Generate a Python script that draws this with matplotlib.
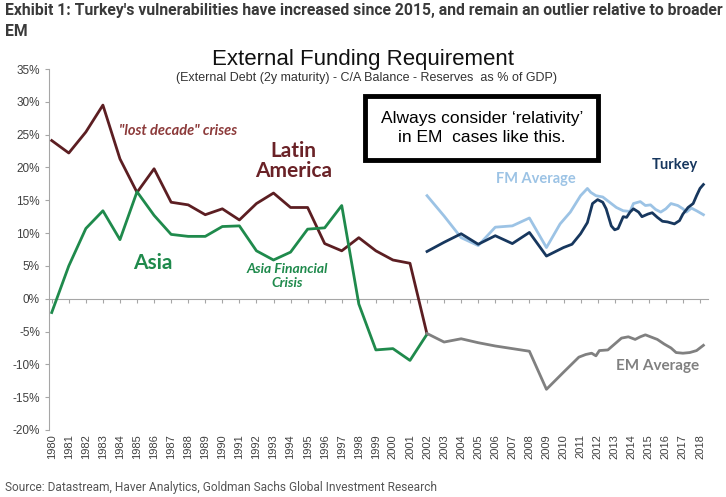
import matplotlib
matplotlib.use("Agg")
import matplotlib.pyplot as plt
from matplotlib.patches import Rectangle
from matplotlib.ticker import FuncFormatter

# ---- data (% of GDP) ----
years_hist = list(range(1980, 2003))
latam = [24.1, 22.2, 25.4, 29.5, 21.3, 16.2, 19.8, 14.7, 14.3, 12.8, 13.7, 12.0,
         14.5, 16.1, 13.9, 13.9, 8.4, 7.3, 9.3, 7.3, 5.9, 5.4, -5.4]
asia = [-2.1, 5.0, 10.7, 13.4, 9.0, 16.3, 12.7, 9.8, 9.5, 9.5, 11.0, 11.1,
        7.3, 5.9, 7.1, 10.6, 10.8, 14.2, -0.8, -7.8, -7.6, -9.4, -5.4]

em_years = [2002, 2003, 2004, 2005, 2006, 2007, 2008, 2009, 2010, 2010.9, 2011.3,
            2011.65, 2011.9, 2012.1, 2012.6, 2013.0, 2013.4, 2013.8, 2014.2, 2014.5,
            2014.8, 2015.2, 2015.5, 2015.9, 2016.3, 2016.6, 2017.0, 2017.4, 2017.8, 2018.2]
em_avg = [-5.3, -6.6, -6.1, -6.7, -7.2, -7.6, -8.0, -13.8, -11.2, -8.9, -8.5,
          -8.3, -8.7, -7.9, -7.8, -6.9, -6.0, -5.8, -6.2, -5.8,
          -5.5, -5.9, -6.2, -6.9, -7.5, -8.2, -8.3, -8.2, -7.9, -7.1]

tr_years = [2002, 2003, 2004, 2005, 2006, 2007, 2008, 2009, 2010, 2010.5, 2011.0,
            2011.4, 2011.7, 2012.0, 2012.3, 2012.5, 2012.8, 2013.0, 2013.2, 2013.5,
            2013.7, 2013.9, 2014.1, 2014.4, 2014.6, 2014.95, 2015.2, 2015.5, 2015.8,
            2016.1, 2016.5, 2016.8, 2017.0, 2017.3, 2017.6, 2017.8, 2018.0, 2018.2]
turkey = [7.2, 8.6, 9.9, 8.3, 9.6, 8.4, 10.1, 6.5, 7.8, 8.3, 9.9,
          11.6, 14.5, 15.1, 14.7, 13.7, 11.1, 10.5, 10.7, 12.5,
          12.4, 13.2, 13.7, 13.2, 12.5, 12.9, 13.1, 12.4, 11.8,
          11.7, 11.4, 11.9, 12.9, 13.9, 14.5, 15.7, 16.8, 17.4]

fm_years = [2002, 2003, 2004, 2005, 2006, 2007, 2008, 2009, 2009.8, 2010.4, 2011.0,
            2011.4, 2011.6, 2011.9, 2012.3, 2012.7, 2013.1, 2013.5, 2013.9, 2014.1,
            2014.5, 2014.8, 2015.1, 2015.4, 2015.7, 2016.0, 2016.3, 2016.7, 2017.0,
            2017.2, 2017.5, 2017.8, 2018.2]
fm_avg = [15.7, 12.6, 9.3, 8.1, 10.9, 11.1, 12.3, 7.8, 11.4, 13.2, 15.7,
          16.8, 16.2, 15.7, 15.5, 14.7, 13.9, 13.4, 13.3, 14.5,
          14.8, 14.2, 14.3, 13.6, 13.2, 13.7, 14.5, 14.2, 13.7,
          13.2, 13.8, 13.4, 12.8]

tick_years = list(range(1980, 2019))

# ---- colours ----
c_latam = "#5C1E22"
c_asia = "#1F8A4C"
c_em = "#808080"
c_turkey = "#17375E"
c_fm = "#9CC3E5"
c_axis = "#A6A6A6"
c_text = "#404040"

sans = ["Liberation Sans", "DejaVu Sans"]
narrow = ["Roboto", "DejaVu Sans"]
calib = ["Lato", "DejaVu Sans"]

fig = plt.figure(figsize=(7.26, 4.97), dpi=100)
ax = fig.add_axes([49 / 726, 1 - 430 / 497, (708 - 49) / 726, (430 - 69) / 497])

lw = 2.0
ax.plot(years_hist, latam, color=c_latam, lw=lw, zorder=3)
ax.plot(years_hist, asia, color=c_asia, lw=lw, zorder=3)
ax.plot(em_years, em_avg, color=c_em, lw=lw, zorder=3)
ax.plot(fm_years, fm_avg, color=c_fm, lw=lw, zorder=3)
ax.plot(tr_years, turkey, color=c_turkey, lw=lw, zorder=4)

ax.set_xlim(1979.84, 2018.47)
ax.set_ylim(-20, 35)
ax.set_yticks(range(-20, 36, 5))
ax.yaxis.set_major_formatter(FuncFormatter(lambda v, p: f"{int(v)}%"))

for s in ["top", "right", "bottom"]:
    ax.spines[s].set_visible(False)
ax.spines["left"].set_color(c_axis)
ax.tick_params(axis="y", colors=c_axis, length=3, labelcolor=c_text, labelsize=8.5)
for lab in ax.get_yticklabels():
    lab.set_family(sans)

# year labels at the bottom, rotated
ax.set_xticks(tick_years)
ax.set_xticklabels([str(y) for y in tick_years], rotation=90, fontsize=8,
                   color=c_text, family=sans)
ax.tick_params(axis="x", length=0, pad=3)

# zero line with tick marks
zero_ax = ax.secondary_xaxis(20 / 55)
zero_ax.set_xticks(tick_years)
zero_ax.set_xticklabels([])
zero_ax.spines["bottom"].set_color(c_axis)
zero_ax.tick_params(axis="x", colors=c_axis, length=3, direction="out")

# ---- in-chart labels ----
ax.text(1987.4, 25.5, "\"lost decade\" crises", color="#8C3A3A", fontsize=10.5,
        style="italic", fontweight="bold", family=calib, ha="center", va="center")
ax.text(1994.15, 21.0, "Latin\nAmerica", color="#6A2227", fontsize=15,
        fontweight="bold", family=calib, ha="center", va="center", linespacing=1.0)
ax.text(1985.9, 5.4, "Asia", color=c_asia, fontsize=15, fontweight="bold",
        family=calib, ha="center", va="center")
ax.text(1993.8, 3.5, "Asia Financial\nCrisis", color=c_asia, fontsize=10,
        style="italic", fontweight="bold", family=calib, ha="center", va="center",
        linespacing=1.15)
ax.text(2016.5, 20.3, "Turkey", color=c_turkey, fontsize=10.5, fontweight="bold",
        family=calib, ha="center", va="center")
ax.text(2008.4, 18.3, "FM Average", color=c_fm, fontsize=10.5, fontweight="bold",
        family=calib, ha="center", va="center")
ax.text(2015.5, -10.2, "EM Average", color=c_em, fontsize=11, fontweight="bold",
        family=calib, ha="center", va="center")

# ---- headings ----
fig.text(5 / 726, 1 - 11 / 497,
         "Exhibit 1: Turkey's vulnerabilities have increased since 2015, and remain an outlier relative to broader",
         fontsize=11.3, fontweight="bold", color="#3A3A3A", family=narrow, va="center")
fig.text(5 / 726, 1 - 31 / 497, "EM", fontsize=11.3, fontweight="bold",
         color="#3A3A3A", family=narrow, va="center")
fig.text(363 / 726, 1 - 60 / 497, "External Funding Requirement", fontsize=16,
         color="#111111", family=sans, ha="center", va="center")
fig.text(367 / 726, 1 - 78 / 497,
         "(External Debt (2y maturity) - C/A Balance - Reserves  as % of GDP)",
         fontsize=9, color="#333333", family=sans, ha="center", va="center")

# ---- callout box ----
fig.patches.append(Rectangle((365 / 726, 1 - 160 / 497), 233 / 726, 64 / 497,
                             transform=fig.transFigure, facecolor="white",
                             edgecolor="black", lw=3.5, zorder=5))
fig.text(482 / 726, 1 - 128 / 497, "Always consider \u2018relativity\u2019\nin EM  cases like this.",
         fontsize=12.5, color="black", family=sans, ha="center", va="center",
         linespacing=1.25, zorder=6)

fig.text(5 / 726, 1 - 488 / 497,
         "Source: Datastream, Haver Analytics, Goldman Sachs Global Investment Research",
         fontsize=8.6, color="#555555", family=narrow, va="center")

fig.savefig("out.png", dpi=100)
